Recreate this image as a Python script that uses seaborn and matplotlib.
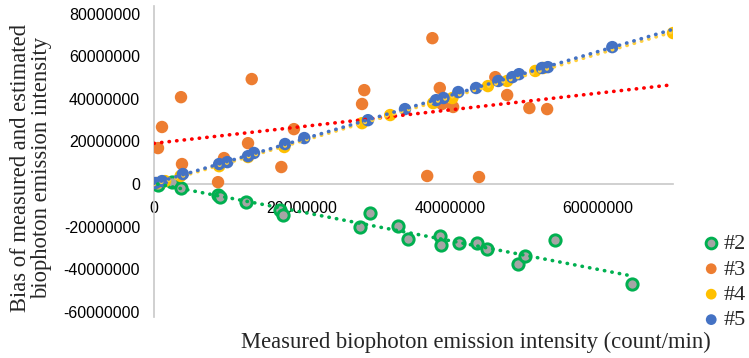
import numpy as np
import pandas as pd
import matplotlib
matplotlib.use("Agg")
import matplotlib.pyplot as plt
import seaborn as sns
from matplotlib.ticker import FuncFormatter

# ---- data (count/min) ----
s2_x = [0.5e6, 2.4e6, 3.65e6, 8.65e6, 8.9e6, 12.4e6, 17.0e6, 17.4e6, 27.8e6, 29.2e6,
        33.0e6, 34.3e6, 38.6e6, 38.8e6, 41.2e6, 43.6e6, 45.0e6, 49.2e6, 50.1e6, 54.1e6, 64.5e6]
s2_y = [-0.3e6, 0.9e6, -1.9e6, -5.2e6, -6.1e6, -8.4e6, -12.2e6, -14.6e6, -20.2e6, -13.6e6,
        -19.7e6, -25.8e6, -24.4e6, -28.6e6, -27.7e6, -27.7e6, -30.5e6, -37.6e6, -33.8e6, -26.3e6, -46.9e6]

s3_x = [0.54e6, 1.08e6, 3.65e6, 3.78e6, 8.65e6, 9.46e6, 12.7e6, 13.2e6, 17.2e6, 18.9e6,
        28.1e6, 28.4e6, 36.9e6, 37.6e6, 38.6e6, 38.9e6, 40.4e6, 43.9e6, 46.1e6, 47.7e6, 50.7e6, 53.1e6]
s3_y = [16.9e6, 26.8e6, 40.8e6, 9.4e6, 0.9e6, 12.2e6, 19.2e6, 49.3e6, 8.0e6, 25.8e6,
        37.6e6, 44.1e6, 3.8e6, 68.5e6, 45.1e6, 37.6e6, 36.2e6, 3.3e6, 50.2e6, 41.8e6, 35.7e6, 35.2e6]

s4_x = [0.4e6, 1.5e6, 3.6e6, 8.8e6, 12.7e6, 17.6e6, 28.1e6, 31.9e6, 37.7e6, 40.3e6,
        45.1e6, 47.7e6, 51.5e6, 52.6e6, 70.1e6]
s4_y = [0.5e6, 1.4e6, 3.8e6, 8.4e6, 12.7e6, 17.4e6, 28.6e6, 32.4e6, 38.0e6, 40.4e6,
        46.0e6, 48.4e6, 53.1e6, 54.5e6, 70.9e6]

s5_x = [0.2e6, 1.08e6, 3.9e6, 8.8e6, 9.9e6, 12.7e6, 13.5e6, 17.7e6, 20.3e6, 28.9e6,
        33.9e6, 38.1e6, 39.1e6, 41.1e6, 43.5e6, 46.5e6, 48.4e6, 49.3e6, 52.4e6, 53.2e6, 61.9e6]
s5_y = [0.5e6, 1.4e6, 4.7e6, 9.4e6, 10.3e6, 13.1e6, 14.6e6, 18.8e6, 21.6e6, 30.0e6,
        35.2e6, 39.4e6, 40.4e6, 43.2e6, 45.1e6, 48.4e6, 50.2e6, 51.6e6, 54.5e6, 54.9e6, 64.3e6]

x_ticks = [0, 20000000, 40000000, 60000000]
y_ticks = [-60000000, -40000000, -20000000, 0, 20000000, 40000000, 60000000, 80000000]
labels = ["#2", "#3", "#4", "#5"]

x_title = "Measured biophoton emission intensity (count/min)"
y_title = "Bias of measured and estimated\nbiophoton emission intensity"

# ---- style ----
sns.set_style("white")
plt.rcParams['font.family'] = ['Liberation Sans', 'DejaVu Sans']

fig = plt.figure(figsize=(7.49, 3.58), dpi=100)
ax = fig.add_axes([154/749, 41/358, 519/749, 311/358])

XMIN, XMAX = 0, 70.1e6
YMIN, YMAX = -62.4e6, 83.6e6
ax.set_xlim(XMIN, XMAX)
ax.set_ylim(YMIN, YMAX)

series = [
    (s2_x, s2_y, dict(color="#A5A5A5", edgecolor="#00B050", linewidth=2.1, s=66), "#00B050", True),
    (s3_x, s3_y, dict(color="#ED7D31", edgecolor="none", linewidth=0, s=80), "#FF0000", False),
    (s4_x, s4_y, dict(color="#FFC000", edgecolor="none", linewidth=0, s=80), "#FFD040", False),
    (s5_x, s5_y, dict(color="#4472C4", edgecolor="none", linewidth=0, s=80), "#4472C4", False),
]

handles = []
for (xs, ys, kw, lc, trunc), lab in zip(series, labels):
    df = pd.DataFrame({"x": xs, "y": ys})
    h = ax.scatter(df["x"], df["y"], zorder=2, label=lab, **kw)
    handles.append(h)

for (xs, ys, kw, lc, trunc), lab in zip(series, labels):
    df = pd.DataFrame({"x": xs, "y": ys})
    ax.set_xlim(XMIN, XMAX)
    sns.regplot(data=df, x="x", y="y", ax=ax, scatter=False, ci=None, truncate=trunc,
                line_kws=dict(color=lc, lw=2.6, linestyle=(0, (0.1, 2.0)),
                              dash_capstyle='round', zorder=3))

ax.set_xlim(XMIN, XMAX)
ax.set_ylim(YMIN, YMAX)
ax.set_xlabel("")
ax.set_ylabel("")
ax.set_xticks(x_ticks)
ax.set_yticks(y_ticks)
fmt = FuncFormatter(lambda v, p: f"{int(round(v))}")
ax.xaxis.set_major_formatter(fmt)
ax.yaxis.set_major_formatter(fmt)
ax.tick_params(axis='both', length=0, labelsize=11.5, colors="#000000")
ax.tick_params(axis='y', pad=10)
ax.tick_params(axis='x', pad=12)

for sp in ["top", "right"]:
    ax.spines[sp].set_visible(False)
ax.spines["bottom"].set_position(("data", 0))
for sp in ["left", "bottom"]:
    ax.spines[sp].set_color("#C8C8C8")
    ax.spines[sp].set_linewidth(1.2)
ax.spines["left"].set_zorder(1)
ax.spines["bottom"].set_zorder(1)

serif = ['Liberation Serif', 'DejaVu Serif']
fig.text(476/749, 1 - 342/358, x_title, ha="center", va="center",
         family=serif, fontsize=16.3)
fig.text(31/749, 1 - 168/358, y_title, ha="center", va="center", rotation=90,
         family=serif, fontsize=16.3, linespacing=1.0, multialignment="center")

leg = ax.legend(handles=handles, labels=labels, loc="center left",
                bbox_to_anchor=(699/749, 1 - 282/358), bbox_transform=fig.transFigure,
                frameon=False, prop=dict(family=serif, size=16),
                handletextpad=0.0, labelspacing=0.22, handlelength=1.1,
                borderaxespad=0, borderpad=0)
for h in leg.legend_handles:
    h.set_sizes([60])

fig.savefig("out.png", dpi=100)
